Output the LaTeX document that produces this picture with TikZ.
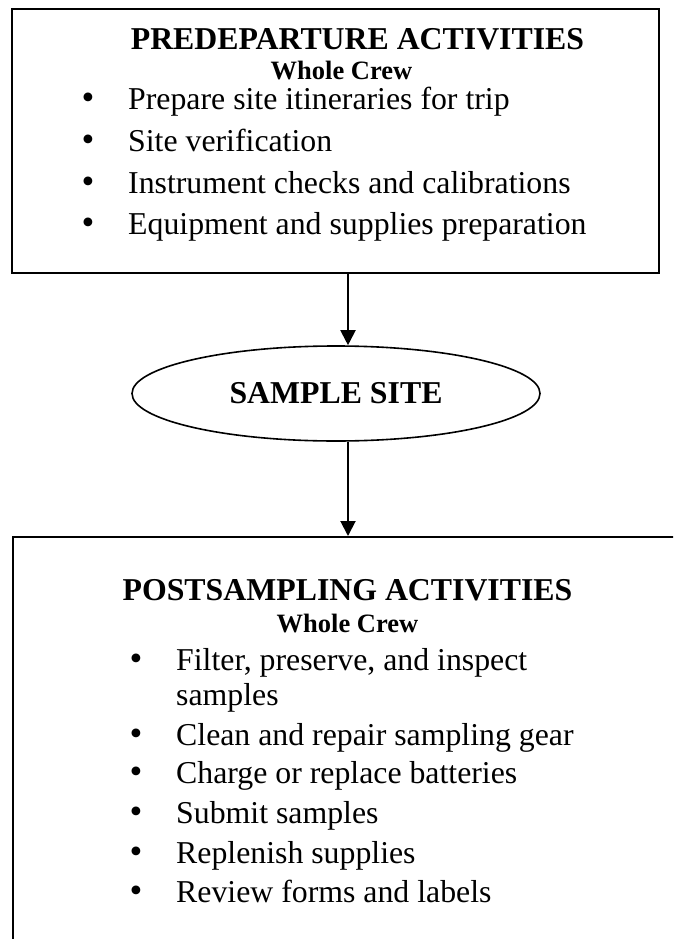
\documentclass[tikz,border=0pt]{standalone}
\usepackage{fontspec}
\setmainfont{Liberation Serif}
\usetikzlibrary{arrows.meta,shapes.geometric}

\newcommand{\bodysize}{\fontsize{31.8}{38}\selectfont}
\newcommand{\crewsize}{\fontsize{26.5}{32}\selectfont}
\newcommand{\bul}{\makebox[46.5pt][l]{\scalebox{1.15}{\textbullet}}}

\begin{document}
\begin{tikzpicture}[x=1pt, y=-1pt,
            box/.style={draw, rectangle, line width=2pt, inner sep=0pt},
            heading/.style={font=\bodysize\bfseries, anchor=base, inner sep=0pt},
            crew/.style={font=\crewsize\bfseries, anchor=base, inner sep=0pt},
            item/.style={font=\bodysize, anchor=base west, inner sep=0pt, align=left},
            arr/.style={-{Triangle[width=15pt,length=15pt]}, line width=2pt}]
            \clip (0,0) rectangle (673,939);
            % boxes
            \node[box, minimum width=647pt, minimum height=264pt] (pre) at (335.5,141) {};
            \node[draw, ellipse, line width=1.6pt, minimum width=408pt, minimum height=95pt,
                  inner sep=0pt, font=\bodysize\bfseries] (site) at (336,393.5) {SAMPLE SITE};
            \node[box, minimum width=687pt, minimum height=443pt] (post) at (356.5,758.5) {};
            % predeparture
            \node[heading] (preh) at (357.5,50) {PREDEPARTURE ACTIVITIES};
            \node[crew] (prec) at (341.5,80) {Whole Crew};
            \node[item] (pre1) at (81.5,110) {\bul Prepare site itineraries for trip};
            \node[item] (pre2) at (81.5,151.5) {\bul Site verification};
            \node[item] (pre3) at (81.5,193) {\bul Instrument checks and calibrations};
            \node[item] (pre4) at (81.5,234.5) {\bul Equipment and supplies preparation};
            % postsampling (base of a two-line node is its last line)
            \node[heading] (posth) at (347.5,600) {POSTSAMPLING ACTIVITIES};
            \node[crew] (postc) at (347.5,632) {Whole Crew};
            \node[item, font=\fontsize{31.8}{35}\selectfont] (post1) at (129.5,705)
                {\bul Filter, preserve, and inspect\\\hspace*{46.5pt}samples};
            \node[item] (post2) at (129.5,745) {\bul Clean and repair sampling gear};
            \node[item] (post3) at (129.5,783) {\bul Charge or replace batteries};
            \node[item] (post4) at (129.5,823) {\bul Submit samples};
            \node[item] (post5) at (129.5,863) {\bul Replenish supplies};
            \node[item] (post6) at (129.5,902) {\bul Review forms and labels};
            % arrows
            \coordinate (ax) at (348,0);
            \draw[arr] (pre.south -| ax) -- (site.north -| ax);
            \draw[arr] (site.south -| ax) -- (post.north -| ax);
        \end{tikzpicture}
\end{document}
